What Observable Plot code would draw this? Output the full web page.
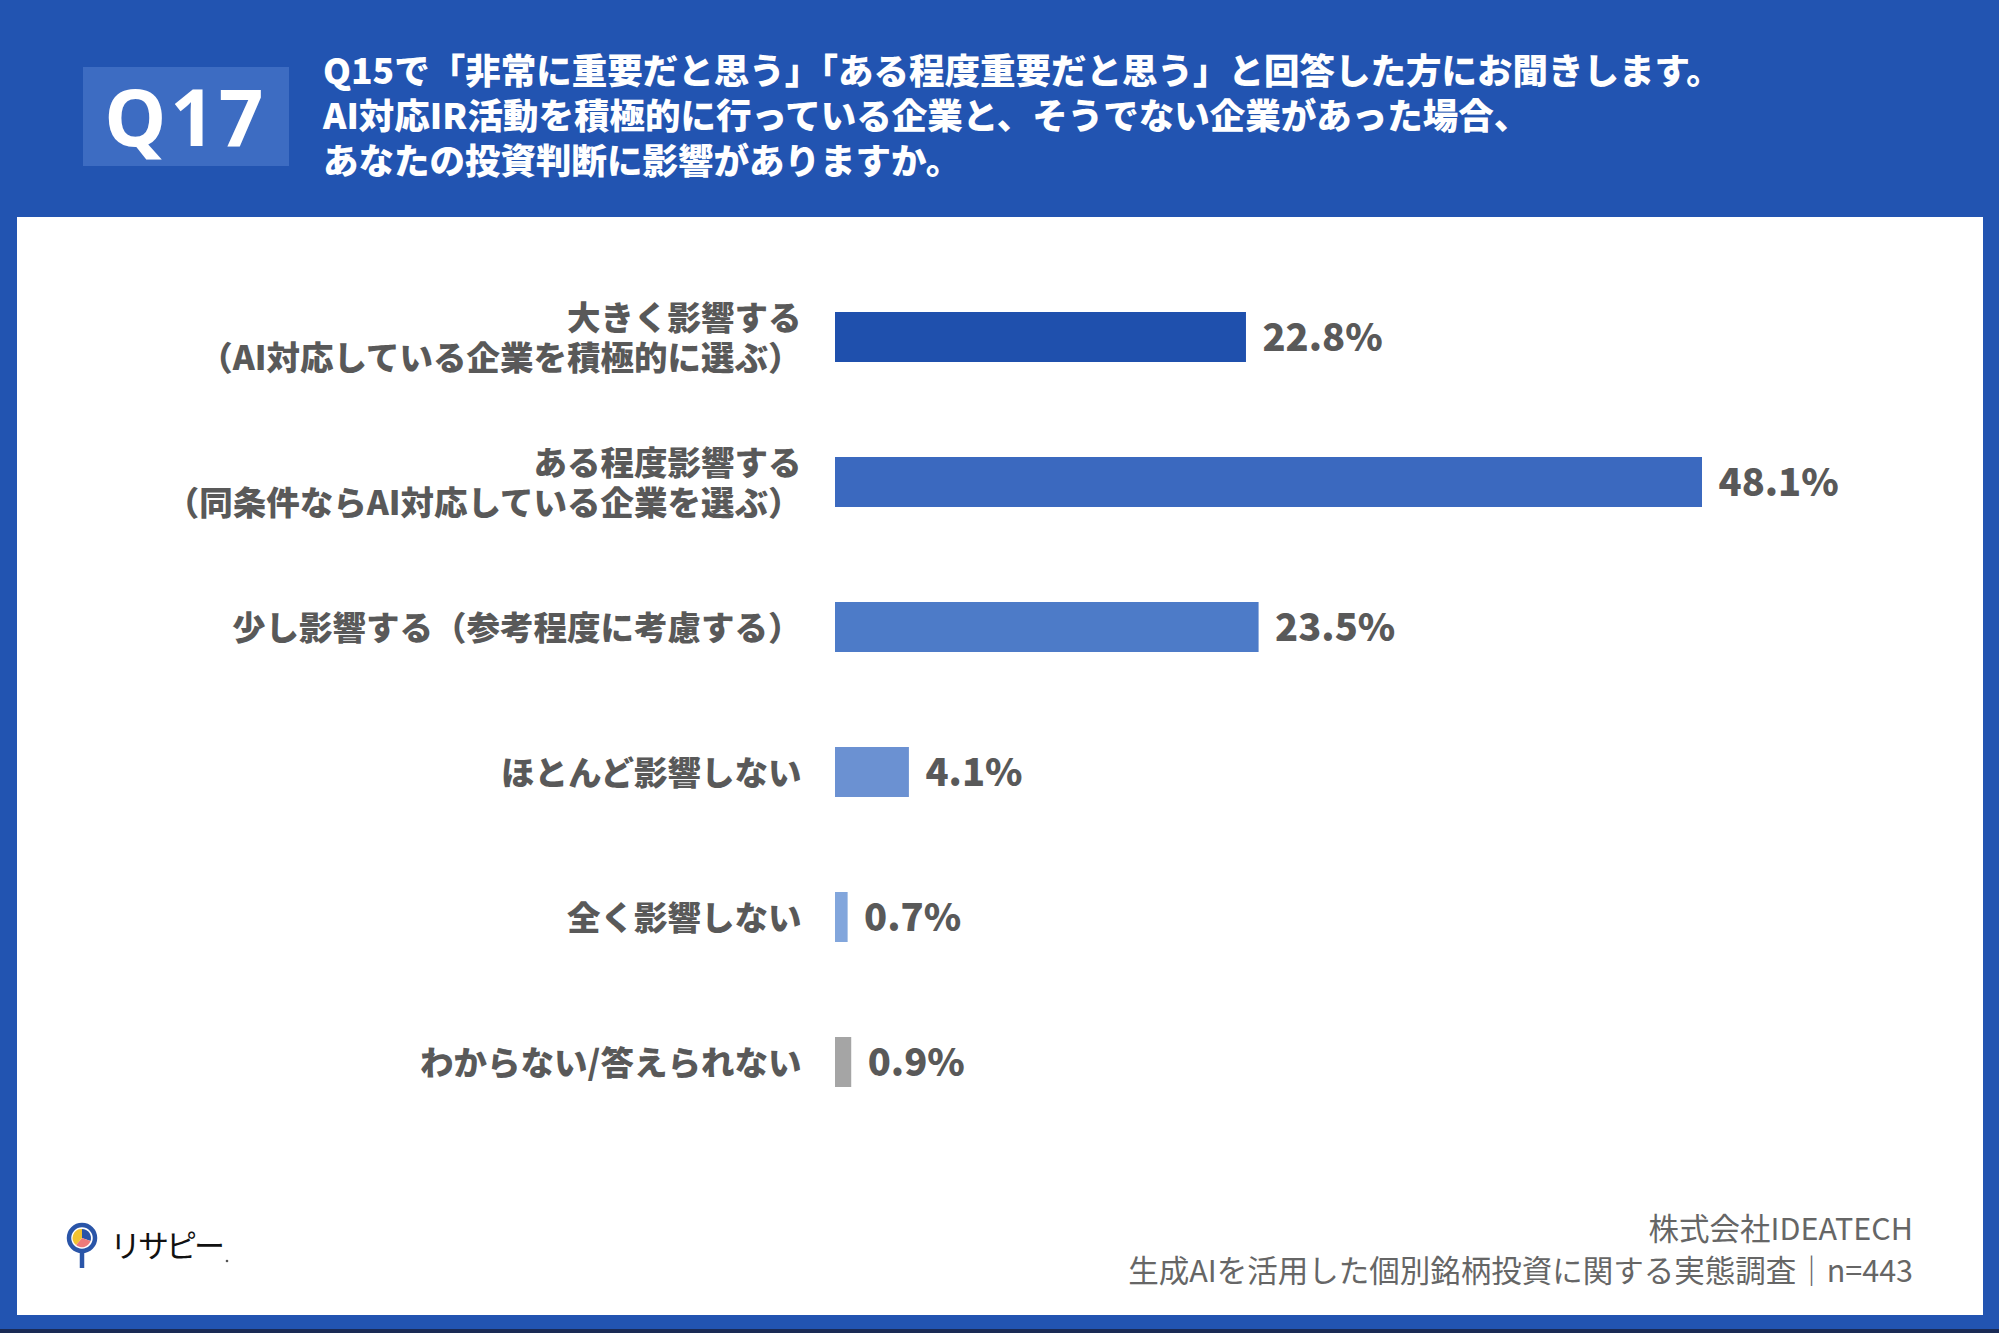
<!DOCTYPE html>
<html lang="ja">
<head>
<meta charset="utf-8">
<script src="https://cdn.jsdelivr.net/npm/d3@7"></script>
<script src="https://cdn.jsdelivr.net/npm/@observablehq/plot@0.6"></script>
<style>
  html, body { margin: 0; padding: 0; }
  body { width: 1999px; height: 1333px; background: #2254b1; overflow: hidden; position: relative;
         font-family: "Noto Sans CJK JP", "Noto Sans", sans-serif; }
  #bottomline { position: absolute; left: 0; top: 1329px; width: 1999px; height: 4px; background: #1a2a55; }
  #panel { position: absolute; left: 17px; top: 217px; width: 1966px; height: 1098px; background: #ffffff; }
  #qbox { position: absolute; left: 83px; top: 67px; width: 206px; height: 99px; background: #3d6cc2;
          color: #fff; font-weight: 700; font-size: 78px; line-height: 99px; text-align: center;
          font-family: "Noto Sans", "DejaVu Sans", sans-serif; letter-spacing: 4px; }
  #title { position: absolute; left: 323px; top: 46px; color: #fff; font-weight: 900; font-size: 35.5px;
           line-height: 45px; white-space: nowrap; }
  #chart { position: absolute; left: 0; top: 217px; }
  #footer { position: absolute; right: 86px; top: 1206px; text-align: right; color: #666; font-size: 30.5px;
            line-height: 42px; font-weight: 400; white-space: nowrap; }
  #logo { position: absolute; left: 55px; top: 1212px; }
</style>
</head>
<body>
<div id="panel"></div>
<div id="bottomline"></div>
<div id="qbox">Q17</div>
<div id="title">Q15で「非常に重要だと思う」「ある程度重要だと思う」と回答した方にお聞きします。<br>AI対応IR活動を積極的に行っている企業と、そうでない企業があった場合、<br>あなたの投資判断に影響がありますか。</div>
<div id="chart"></div>
<div id="footer">株式会社IDEATECH<br>生成AIを活用した個別銘柄投資に関する実態調査｜n=443</div>
<svg id="logo" width="200" height="70" viewBox="0 0 200 70">
  <circle cx="27" cy="26" r="13" fill="#fff" stroke="#2a55a8" stroke-width="4.5"/>
  <path d="M27,26 L27,17 A9,9 0 0,1 35.5,29 Z" fill="#2a55a8"/>
  <path d="M27,26 L35.5,29 A9,9 0 0,1 21,33 Z" fill="#ef7a7a"/>
  <path d="M27,26 L21,33 A9,9 0 0,1 27,17 Z" fill="#f2c230"/>
  <line x1="27" y1="40" x2="27" y2="56" stroke="#2a55a8" stroke-width="4.5"/>
  <text x="55" y="45" font-size="31" fill="#111" font-family="Noto Sans CJK JP" letter-spacing="-3">リサピー</text>
  <circle cx="172" cy="49" r="1.3" fill="#555"/>
</svg>
<script>
const categories = [
  "大きく影響する\n（AI対応している企業を積極的に選ぶ）",
  "ある程度影響する\n（同条件ならAI対応している企業を選ぶ）",
  "少し影響する（参考程度に考慮する）",
  "ほとんど影響しない",
  "全く影響しない",
  "わからない/答えられない"
];
const values = [22.8, 48.1, 23.5, 4.1, 0.7, 0.9];
const barColors = ["#1f50ad", "#3b69bf", "#4d7bc8", "#6b91d2", "#82a6dc", "#a5a5a5"];

const data = categories.map((c, i) => ({category: c, value: values[i]}));

const chart = Plot.plot({
  width: 1999,
  height: 960,
  marginLeft: 0, marginRight: 0, marginTop: 0, marginBottom: 0,
  x: {domain: [0, 48.1], range: [835, 1702], axis: null},
  y: {domain: categories, range: [47.5, 917.5], paddingInner: 0.655, paddingOuter: 0.3275, axis: null},
  color: {domain: categories, range: barColors},
  style: {background: "transparent", fontFamily: "'Noto Sans CJK JP', 'Noto Sans', sans-serif", overflow: "visible"},
  marks: [
    Plot.barX(data, {x: "value", y: "category", fill: "category"}),
    Plot.text(data, {
      x: "value", y: "category", text: d => d.value.toFixed(1) + "%",
      textAnchor: "start", dx: 16, dy: 1, fontSize: 38, fontWeight: 800, fill: "#595959"
    }),
    Plot.text(data, {
      x: 0, y: "category", text: "category",
      textAnchor: "end", dx: -34, fontSize: 33.5, fontWeight: 800, fill: "#595959", lineHeight: 1.2
    })
  ]
});
document.getElementById("chart").appendChild(chart);
</script>
</body>
</html>
